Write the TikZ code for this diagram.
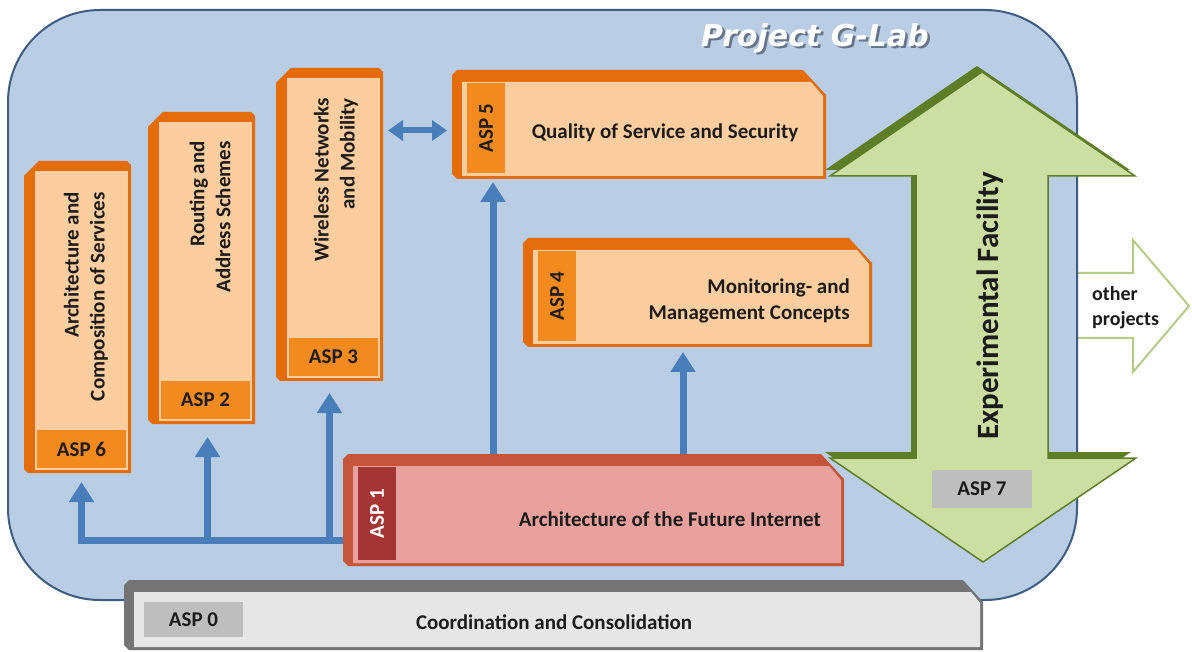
\documentclass[tikz,border=0pt]{standalone}
\usepackage{fontspec}
\setmainfont{Carlito}
\newfontfamily\titlefont{DejaVu Sans}
\usetikzlibrary{arrows.meta,calc}

\definecolor{panelfill}{HTML}{B9CDE5}
\definecolor{panelline}{HTML}{3E5D82}
\definecolor{titleshade}{HTML}{66768A}
\definecolor{orside}{HTML}{E46C0A}
\definecolor{orface}{HTML}{FCCD9E}
\definecolor{orlabel}{HTML}{F28A1E}
\definecolor{rdside}{HTML}{C4553A}
\definecolor{rdface}{HTML}{E9A19D}
\definecolor{rdlabel}{HTML}{A53434}
\definecolor{gyside}{HTML}{747474}
\definecolor{gyface}{HTML}{E6E6E6}
\definecolor{gylabel}{HTML}{BEBEBE}
\definecolor{linkblue}{HTML}{4A7EBB}
\definecolor{efdark}{HTML}{5E7D27}
\definecolor{efface}{HTML}{CCDFA2}
\definecolor{otherline}{HTML}{B5CC86}
\definecolor{ink}{HTML}{1C1C1C}

% upright bevelled work-package column (big bevel top left)
\newcommand\vertbox[2]{%
  \fill[#2side] ($(#1.north west)+(0,15)$) -- ($(#1.north west)+(15,0)$)
    -- ($(#1.north east)+(-4,0)$) -- ($(#1.north east)+(0,4)$) -- (#1.south east)
    -- ($(#1.south west)+(4,0)$) -- ($(#1.south west)+(0,-4)$) -- cycle;
  \fill[#2face] ($(#1.north west)+(11,10)$) rectangle ($(#1.south east)+(-3,-3)$);
}
% lying bevelled work-package bar (bevel top right, size #3)
\newcommand\horizbox[3]{%
  \fill[#2side] ($(#1.north west)+(0,5)$) -- ($(#1.north west)+(5,0)$)
    -- ($(#1.north east)+(-#3,0)$) -- ($(#1.north east)+(0,#3+2)$) -- (#1.south east)
    -- ($(#1.south west)+(5,0)$) -- ($(#1.south west)+(0,-5)$) -- cycle;
  \fill[#2face] ($(#1.north west)+(10,12)$) -- ($(#1.north east)+(-#3+8,12)$)
    -- ($(#1.north east)+(-3,#3+3)$) -- ($(#1.south east)+(-3,-3)$)
    -- ($(#1.south west)+(10,-3)$) -- cycle;
}
% rotated ASP tag on the left end of a bar
\newcommand\sidelabel[5]{%
  \fill[#2label] ($(#1.north west)+(15,13)$) coordinate (#3a)
    rectangle ($(#1.south west)+(53,-6)$) coordinate (#3b);
  \node[asptext, text=#4, rotate=90] (#3) at ($(#3a)!0.5!(#3b)$) {#5};
}
% ASP tag at the foot of a column
\newcommand\footlabel[3]{%
  \fill[orlabel] ($(#1.south west)+(13,-43)$) coordinate (#2a)
    rectangle ($(#1.south east)+(-5,-5)$) coordinate (#2b);
  \node[asptext] (#2) at ($(#2a)!0.5!(#2b)$) {#3};
}
% white title lettering with a drop shadow
\newcommand\shadowed[1]{%
  \rlap{\hspace{2.5pt}\raisebox{-2.5pt}[0pt][0pt]{\textcolor{titleshade}{#1}}}\textcolor{white}{#1}}

\tikzset{
  frame/.style={rectangle, inner sep=0pt, outer sep=0pt, draw=none},
  asptext/.style={font=\fontsize{21}{25}\selectfont\bfseries, text=ink, inner sep=0pt},
  body/.style={font=\fontsize{21}{26}\selectfont\bfseries, text=ink, inner sep=0pt},
  vtext/.style={body, rotate=90, anchor=east, align=right},
  titlestyle/.style={font=\titlefont\fontsize{30}{36}\selectfont\bfseries\itshape, inner sep=0pt},
  link/.style={draw=linkblue, line width=7pt, -{Triangle[width=24pt,length=20pt]}},
  duallink/.style={draw=linkblue, line width=6pt,
    {Triangle[width=20pt,length=15pt]}-{Triangle[width=20pt,length=15pt]}},
}

\begin{document}
\begin{tikzpicture}[x=1pt,y=-1pt]
\useasboundingbox (0,0) rectangle (1192,652);
\fill[white] (0,0) rectangle (1192,652);

% outgoing arrow towards other projects
\draw[otherline, line width=2pt, fill=white, line join=miter]
  (1077,273) -- (1133,273) -- (1133,240) -- (1189,306) -- (1133,372) -- (1133,338) -- (1077,338);

% project panel
\draw[panelline, line width=2pt, fill=panelfill, rounded corners=92pt] (8,10) rectangle (1077,600);
\node[titlestyle] (title) at (815,38) {\shadowed{Project G-Lab}};

% frames of the work packages
\node[frame, minimum width=107pt, minimum height=312pt] (asp6) at (77.5,317) {};
\node[frame, minimum width=107pt, minimum height=312pt] (asp2) at (201.5,268) {};
\node[frame, minimum width=107pt, minimum height=313pt] (asp3) at (329.5,224.5) {};
\node[frame, minimum width=374pt, minimum height=109pt] (asp5) at (639,124.5) {};
\node[frame, minimum width=349pt, minimum height=109pt] (asp4) at (697.5,292.5) {};
\node[frame, minimum width=501pt, minimum height=112pt] (asp1) at (593.5,510) {};
\node[frame, minimum width=859pt, minimum height=70pt] (asp0) at (553.5,615) {};

% coordination bar
\horizbox{asp0}{gy}{20}
\node[asptext, fill=gylabel, minimum width=99pt, minimum height=35pt] (asp0lbl) at (193.5,619.5) {ASP 0};
\node[body] (asp0txt) at (554,622) {Coordination and Consolidation};

% columns
\vertbox{asp6}{or}
\footlabel{asp6}{asp6lbl}{ASP 6}
\node[vtext] (asp6txt) at (86,192) {Architecture and\\Composition of Services};
\vertbox{asp2}{or}
\footlabel{asp2}{asp2lbl}{ASP 2}
\node[vtext] (asp2txt) at (210,141) {Routing and\\Address Schemes};
\vertbox{asp3}{or}
\footlabel{asp3}{asp3lbl}{ASP 3}
\node[vtext] (asp3txt) at (336,98) {Wireless Networks\\and Mobility};

% bars
\horizbox{asp5}{or}{23}
\sidelabel{asp5}{or}{asp5lbl}{ink}{ASP 5}
\node[body] (asp5txt) at (665,133) {Quality of Service and Security};
\horizbox{asp4}{or}{23}
\sidelabel{asp4}{or}{asp4lbl}{ink}{ASP 4}
\node[body, align=right, anchor=east] (asp4txt) at (850,301) {Monitoring- and\\Management Concepts};
\horizbox{asp1}{rd}{23}
\sidelabel{asp1}{rd}{asp1lbl}{white}{ASP 1}
\node[body, anchor=east] (asp1txt) at (821,519) {Architecture of the Future Internet};

% dependencies
\coordinate (trunk) at ($(asp1.south west)+(0,-26)$);
\coordinate (in6) at ($(asp6.south)+(4,0)$);
\coordinate (in2) at ($(asp2.south)+(6,0)$);
\coordinate (in5) at ($(asp5.south west)+(41,0)$);
\coordinate (in4) at ($(asp4.south west)+(160,0)$);
\coordinate (qos) at ($(asp5.west)+(0,6)$);
\draw[link, shorten >=9pt] (trunk) -| (in6);
\draw[link, shorten >=13pt] (in2 |- trunk) -- (in2);
\draw[link, shorten >=12pt] (asp3.south |- trunk) -- (asp3.south);
\draw[link, shorten >=3pt] (in5 |- asp1.north) -- (in5);
\draw[link, shorten >=5pt] (in4 |- asp1.north) -- (in4);
\draw[duallink, shorten <=5pt, shorten >=5pt] (asp3.east |- qos) -- (qos);

% experimental facility double arrow
\begin{scope}[shift={(-5,-6)}]
\fill[efdark] (982,72) -- (1135,176) -- (1048,176) -- (1048,458) -- (1136,458) -- (983,562)
  -- (830,458) -- (916,458) -- (916,176) -- (830,176) -- cycle;
\end{scope}
\fill[efface, draw=efdark, line width=1.5pt, line join=miter]
  (982,72) -- (1135,176) -- (1048,176) -- (1048,458) -- (1136,458) -- (983,562)
  -- (830,458) -- (916,458) -- (916,176) -- (830,176) -- cycle;
\node[font=\fontsize{31}{36}\selectfont\bfseries, text=ink, rotate=90, inner sep=0pt] (eftxt) at (990,306) {Experimental Facility};
\node[asptext, fill=gylabel, minimum width=100pt, minimum height=38pt] (asp7lbl) at (982,489) {ASP 7};

\node[font=\fontsize{20}{25}\selectfont\bfseries, text=ink, align=left, anchor=west, inner sep=0pt] (othertxt) at (1092,308) {other\\projects};
\end{tikzpicture}
\end{document}
